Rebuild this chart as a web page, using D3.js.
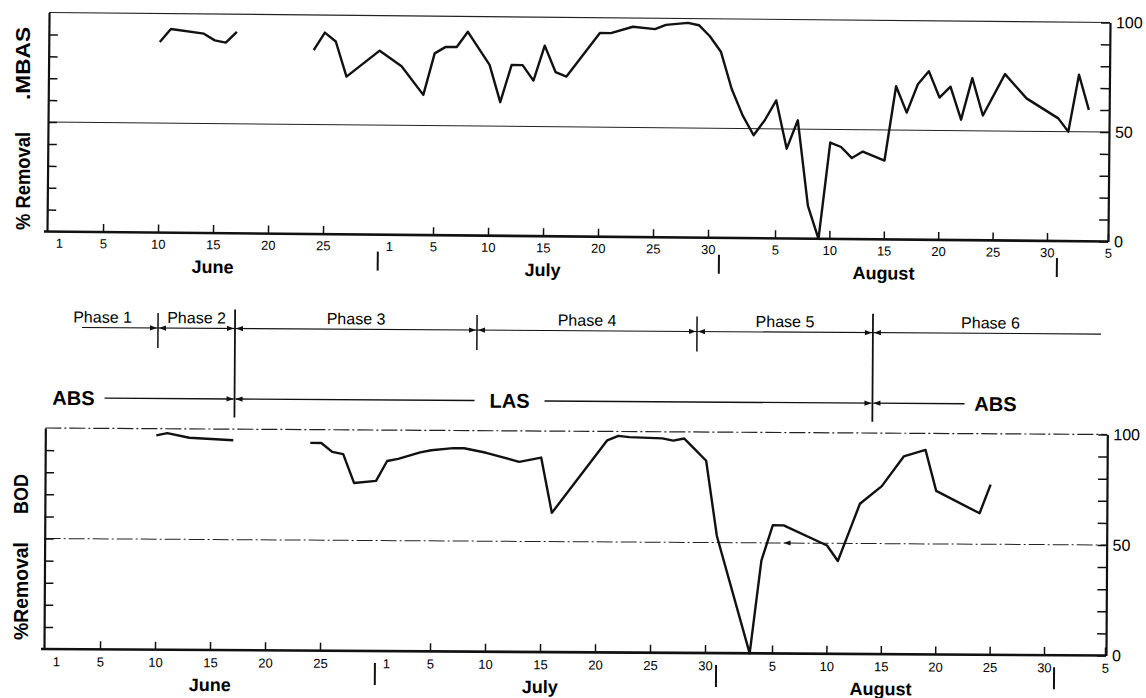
<!DOCTYPE html>
<html>
<head>
<meta charset="utf-8">
<style>
body { margin: 0; background: #fff; }
svg { display: block; background: #fff; font-family: "Liberation Sans", Arial, sans-serif; }
</style>
<script src="https://cdnjs.cloudflare.com/ajax/libs/d3/7.8.5/d3.min.js"></script>
</head>
<body>
<svg id="chart" width="1146" height="698"></svg>
<script>
// dates are "MM-DD", a null value breaks the line
var mbasDates = ["06-10","06-11","06-14","06-15","06-16","06-17","06-20",
  "06-24","06-25","06-26","06-27","06-30","07-02","07-04","07-05","07-06","07-07","07-08",
  "07-10","07-11","07-12","07-13","07-14","07-15","07-16","07-17","07-20","07-21","07-23",
  "07-25","07-26","07-28","07-29","07-30","07-31","08-01","08-02","08-03","08-04","08-05",
  "08-06","08-07","08-08","08-09","08-10","08-11","08-12","08-13","08-15","08-16","08-17",
  "08-18","08-19","08-20","08-21","08-22","08-23","08-24","08-26","08-28","08-31","09-01",
  "09-02","09-03"];
var mbasValues = [87, 93, 91, 88, 87, 92, null,
  84, 92, 88, 72, 84, 77, 64, 83, 86, 86, 93,
  78, 61, 78, 78, 71, 87, 75, 73, 93, 93, 96,
  95, 97, 98, 97, 92, 85, 68, 56, 47, 54, 63,
  41, 54, 15, 0, 44, 42, 37, 40, 36, 70, 58,
  71, 77, 65, 70, 55, 74, 57, 76, 65, 56, 50,
  76, 60];

var bodDates = ["06-10","06-11","06-13","06-17","06-20",
  "06-24","06-25","06-26","06-27","06-28","06-30","07-01","07-02","07-04","07-05","07-07",
  "07-08","07-10","07-13","07-15","07-16","07-21","07-22","07-23","07-26","07-27","07-28",
  "07-29","07-30","07-31","08-03","08-04","08-05","08-06","08-10","08-11","08-12","08-13",
  "08-15","08-17","08-19","08-20","08-24","08-25"];
var bodValues = [97, 98, 96, 95, null,
  94, 94, 90, 89, 76, 77, 86, 87, 90, 91, 92,
  92, 90, 86, 88, 63, 96, 98, 97.5, 97, 96, 97,
  92, 87, 53, 0, 42, 58, 58, 49, 42, 55, 68,
  76, 89.5, 92.5, 74, 64, 77];

var tickDates = ["06-01","06-05","06-10","06-15","06-20","06-25",
  "07-01","07-05","07-10","07-15","07-20","07-25","07-30",
  "08-05","08-10","08-15","08-20","08-25","08-30","09-05"];
var months = ["June", "July", "August"];
var monthEnds = ["06-30", "07-31", "08-31"];

var phaseNames = ["Phase 1", "Phase 2", "Phase 3", "Phase 4", "Phase 5", "Phase 6"];
var phaseBreaks = ["06-10", "06-17", "07-09", "07-29", "08-14"];
var detergents = ["ABS", "LAS", "ABS"];
var detergentBreaks = ["06-17", "08-14"];

var leftTicks = [10, 20, 30, 40, 50, 60, 70, 80, 90];
var rightTicks = [0, 10, 20, 30, 40, 50, 60, 70, 80, 90, 100];
var rightLabels = [0, 50, 100];

function dayNum(s) {
  var p = s.split("-"), m = +p[0], d = +p[1];
  return d + (m === 6 ? 0 : m === 7 ? 30 : m === 8 ? 61 : 92);
}

var svg = d3.select("#chart");

// hand drawn day axis, calibrated on the printed ticks
var x = d3.scaleLinear()
  .domain([5, 25, 35, 60, 66, 91, 97])
  .range([56, 276, 386, 661, 728, 1000, 1061]);

var ink = "#111";

function panel(o) {
  var g = svg.append("g")
    .attr("transform", "translate(" + o.x0 + "," + o.y0 + ") rotate(" + o.angle + ")");
  var y = d3.scaleLinear().domain([0, 100]).range([0, -o.h]);

  // 100 and 50 lines
  [100, 50].forEach(function(v) {
    g.append("line")
      .attr("x1", 0).attr("x2", o.w)
      .attr("y1", y(v)).attr("y2", y(v))
      .attr("stroke", "#222")
      .attr("stroke-width", v === 100 ? 1.2 : 1)
      .attr("stroke-dasharray", o.dash);
  });

  var la = g.append("g")
    .call(d3.axisLeft(y).tickValues(leftTicks).tickSizeInner(-9).tickSizeOuter(0).tickFormat(""));
  la.select(".domain").attr("stroke", ink).attr("stroke-width", 2.2);
  la.selectAll(".tick line").attr("stroke", ink).attr("stroke-width", 1.5);

  var ra = g.append("g")
    .attr("transform", "translate(" + o.w + ",0)")
    .call(d3.axisRight(y).tickValues(rightTicks).tickSizeInner(-9).tickSizeOuter(0).tickPadding(6)
      .tickFormat(function(d) { return rightLabels.indexOf(d) >= 0 ? d : ""; }));
  ra.select(".domain").attr("stroke", ink).attr("stroke-width", 2.2);
  ra.selectAll(".tick line").attr("stroke", ink).attr("stroke-width", 1.5);
  ra.selectAll("text").attr("font-size", 16).attr("font-family", "Liberation Sans, Arial, sans-serif").attr("fill", "#000");

  // x axis
  var tickDays = tickDates.map(dayNum);
  var xa = g.append("g")
    .call(d3.axisBottom(x).tickValues(tickDays).tickSizeInner(-8).tickSizeOuter(0).tickPadding(o.tickPad)
      .tickFormat(function(d, i) { return +tickDates[i].split("-")[1]; }));
  xa.select(".domain").remove();
  xa.selectAll(".tick line").attr("stroke", ink).attr("stroke-width", 1.5)
    .filter(function(d, i) { return tickDates[i].slice(3) === "01"; }).remove();
  xa.selectAll("text").attr("font-size", 13).attr("font-family", "Liberation Sans, Arial, sans-serif").attr("fill", "#000");
  g.append("line")
    .attr("x1", -3).attr("x2", o.w).attr("y1", 0).attr("y2", 0)
    .attr("stroke", ink).attr("stroke-width", 2.6);

  // month names and month separators
  g.selectAll(".month").data(months).enter().append("text")
    .attr("x", function(d, i) { return x(dayNum("0" + (6 + i) + "-15")); })
    .attr("y", o.monthY)
    .attr("text-anchor", "middle")
    .attr("font-size", 18).attr("font-weight", "bold")
    .text(function(d) { return d; });
  g.selectAll(".sep").data(monthEnds).enter().append("line")
    .attr("x1", function(d) { return x(dayNum(d)); })
    .attr("x2", function(d) { return x(dayNum(d)); })
    .attr("y1", o.sepY[0]).attr("y2", o.sepY[1])
    .attr("stroke", ink).attr("stroke-width", 2);

  // data line
  var pts = o.dates.map(function(d, i) { return { day: dayNum(d), v: o.values[i] }; });
  g.append("path")
    .datum(pts)
    .attr("fill", "none")
    .attr("stroke", ink)
    .attr("stroke-width", 2.4)
    .attr("stroke-linejoin", "round")
    .attr("d", d3.line().defined(function(d) { return d.v != null; })
      .x(function(d) { return x(d.day); })
      .y(function(d) { return y(d.v); }));

  // y label, read bottom to top
  o.label.forEach(function(t) {
    svg.append("text")
      .attr("transform", "translate(" + o.labelX + "," + t.y + ") rotate(-90)")
      .attr("font-size", 20).attr("font-weight", "bold")
      .attr("textLength", t.len).attr("lengthAdjust", "spacingAndGlyphs")
      .text(t.text);
  });
  return { g: g, y: y };
}

panel({
  x0: 47, y0: 231.5, angle: 0.54, w: 1061, h: 219, dash: null,
  dates: mbasDates, values: mbasValues, tickPad: 7, monthY: 40, sepY: [17, 36],
  labelX: 30, label: [{ text: "% Removal", y: 230, len: 98 }, { text: ".MBAS", y: 100, len: 73 }]
});

var bot = panel({
  x0: 44, y0: 649, angle: 0.35, w: 1062, h: 221, dash: "16,3,2,3",
  dates: bodDates, values: bodValues, tickPad: 8, monthY: 41, sepY: [12, 34],
  labelX: 28, label: [{ text: "%Removal", y: 640, len: 98 }, { text: "BOD", y: 514, len: 40 }]
});
// small arrow mark on the 50 line
bot.g.append("path")
  .attr("d", d3.line()([[x(dayNum("08-06")), bot.y(50)], [x(dayNum("08-06")) + 7, bot.y(50) - 2.5], [x(dayNum("08-06")) + 7, bot.y(50) + 2.5]]))
  .attr("fill", ink);

// phases and detergents between the panels
var mid = svg.append("g").attr("transform", "translate(47,327.3) rotate(0.37)");
var rowY = 70.5;

function arrowHead(px, py, dir) {
  mid.append("path")
    .attr("d", d3.line()([[px, py], [px - dir * 7, py - 2.6], [px - dir * 7, py + 2.6]]))
    .attr("fill", ink);
}
function hline(x1, x2, py, w) {
  mid.append("line").attr("x1", x1).attr("x2", x2).attr("y1", py).attr("y2", py)
    .attr("stroke", ink).attr("stroke-width", w);
}

var phaseX = phaseBreaks.map(function(d) { return x(dayNum(d)); });
hline(35, 1054, 0, 1.1);
phaseX.forEach(function(px, i) {
  var long = detergentBreaks.indexOf(phaseBreaks[i]) >= 0;
  mid.append("line")
    .attr("x1", px).attr("x2", px)
    .attr("y1", long ? -19 : -15).attr("y2", long ? 89 : 20)
    .attr("stroke", ink).attr("stroke-width", long ? 1.8 : 1.5);
  arrowHead(px - 1, 0, 1);
  arrowHead(px + 1, 0, -1);
});
var phaseEdges = [0].concat(phaseX, [1061]);
mid.selectAll(".phase").data(phaseNames).enter().append("text")
  .attr("x", function(d, i) { return (phaseEdges[i] + phaseEdges[i + 1]) / 2; })
  .attr("y", -5)
  .attr("text-anchor", "middle")
  .attr("font-size", 16)
  .text(function(d) { return d; });

var detX = detergentBreaks.map(function(d) { return x(dayNum(d)); });
var detLabelX = [27, 463, 949];
mid.selectAll(".det").data(detergents).enter().append("text")
  .attr("x", function(d, i) { return detLabelX[i]; })
  .attr("y", rowY + 7)
  .attr("text-anchor", "middle")
  .attr("font-size", 20).attr("font-weight", "bold")
  .text(function(d) { return d; });
hline(58, detX[0] - 1, rowY, 1.4);
hline(detX[0] + 1, 428, rowY, 1.4);
hline(498, detX[1] - 1, rowY, 1.4);
hline(detX[1] + 1, 918, rowY, 1.4);
detX.forEach(function(px) {
  arrowHead(px - 1, rowY, 1);
  arrowHead(px + 1, rowY, -1);
});
</script>
</body>
</html>
